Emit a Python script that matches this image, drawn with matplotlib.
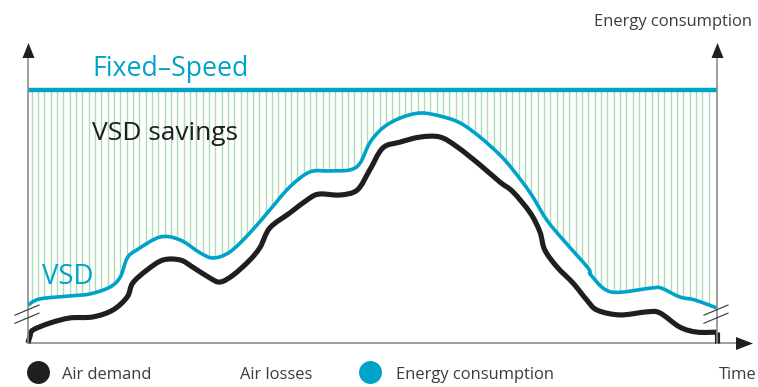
import numpy as np
import matplotlib
matplotlib.use("Agg")
import matplotlib.pyplot as plt
from matplotlib.path import Path
from matplotlib.patches import PathPatch

# ---- data -----------------------------------------------------------------
# Time (0-100) and energy level (Fixed-Speed = 100)
fixed_speed = 100.0

time_vsd = [0.0, 1.7, 6.1, 9.0, 11.9, 13.4, 14.4, 15.8, 19.2, 22.1, 25.0, 26.9,
            29.3, 32.2, 35.1, 38.0, 40.9, 43.8, 46.7, 48.2, 49.6, 51.5, 54.0,
            56.9, 59.8, 62.7, 65.6, 68.5, 70.4, 72.9, 75.3, 77.7, 81.3, 81.7,
            84.6, 90.4, 91.9, 94.6, 96.8, 100.0]
energy_vsd = [15.0, 17.4, 18.6, 19.4, 22.1, 26.1, 33.6, 36.8, 41.9, 40.7, 35.6,
              33.6, 36.0, 43.5, 52.6, 61.7, 67.6, 68.0, 68.4, 71.1, 79.1, 85.0,
              88.9, 90.9, 89.7, 87.0, 81.4, 74.3, 68.4, 59.3, 48.6, 40.7, 29.6,
              26.9, 20.2, 21.7, 21.7, 18.2, 17.0, 13.8]

time_demand = [0.0, 0.3, 0.7, 3.2, 6.1, 9.4, 12.3, 14.4, 15.2, 17.3, 19.6, 22.1,
               23.9, 26.4, 27.9, 29.8, 32.2, 33.7, 35.1, 38.0, 40.9, 42.4, 45.3,
               47.8, 49.6, 51.5, 54.0, 56.9, 59.8, 62.3, 65.6, 68.5, 70.4, 72.9,
               74.3, 75.0, 76.8, 79.1, 81.1, 82.6, 85.9, 89.8, 91.7, 94.6, 97.1,
               100.0, 100.0]
energy_demand = [0.0, 2.8, 5.1, 7.9, 9.9, 10.3, 13.0, 18.2, 23.7, 28.9, 32.8,
                 32.8, 30.0, 25.7, 24.1, 26.9, 32.8, 37.9, 45.5, 51.4, 57.3,
                 58.9, 58.5, 60.5, 68.4, 77.1, 79.4, 81.4, 81.4, 77.5, 70.4,
                 63.6, 59.7, 51.4, 43.9, 36.8, 30.0, 23.7, 17.0, 13.0, 11.1,
                 12.3, 11.9, 6.3, 4.3, 4.3, 0.0]

legend_labels = ["Air demand", "Air losses", "Energy consumption"]

# ---- style ----------------------------------------------------------------
TEAL = "#00a3c8"
INK = "#1f1f1f"
TEXT = "#3c3c3c"
HATCH = "#acdcb4"
AXIS = "#8c8c8c"
FONT = ["Open Sans", "DejaVu Sans"]

W, H = 758, 387
fig = plt.figure(figsize=(W / 100, H / 100), dpi=100)
ax = fig.add_axes([0, 0, 1, 1])
# 1 time unit = 6.89 px, 1 energy unit = 2.53 px; origin at pixel (28, 343)
SX, SY, OX, OY = 6.89, 2.53, 28, 343
ax.set_xlim(-OX / SX, (W - OX) / SX)
ax.set_ylim(-(H - OY) / SY, OY / SY)
ax.axis("off")


def smooth_path(t, e):
    """Catmull-Rom spline through the points, as cubic Bezier segments."""
    p = np.column_stack([t, e]).astype(float)
    pts = np.vstack([p[0], p, p[-1]])
    verts = [p[0]]
    codes = [Path.MOVETO]
    for i in range(1, len(pts) - 2):
        p0, p1, p2, p3 = pts[i - 1], pts[i], pts[i + 1], pts[i + 2]
        c1 = p1 + (p2 - p0) / 6.0
        c2 = p2 - (p3 - p1) / 6.0
        verts += [c1, c2, p2]
        codes += [Path.CURVE4] * 3
    return Path(np.array(verts), codes)


vsd_path = smooth_path(time_vsd, energy_vsd)
vsd_poly = vsd_path.to_polygons(closed_only=False)[0]

# savings hatch: vertical strokes between the VSD curve and the Fixed-Speed level
hatch_t = np.arange(0.55, 99.5, 0.918)
hatch_bottom = np.interp(hatch_t, vsd_poly[:, 0], vsd_poly[:, 1])
ax.vlines(hatch_t, hatch_bottom, fixed_speed, colors=HATCH, linewidth=1.0, zorder=1)

# VSD energy curve
ax.add_patch(PathPatch(vsd_path, fill=False, edgecolor=TEAL, linewidth=2.6,
                       capstyle="butt", joinstyle="round", zorder=3))

# air demand curve (smooth part, then square drop at the end)
dem_path = smooth_path(time_demand[:-1], energy_demand[:-1])
ax.add_patch(PathPatch(dem_path, fill=False, edgecolor=INK, linewidth=3.7,
                       capstyle="butt", joinstyle="round", zorder=4))
ax.plot(time_demand[-2:], energy_demand[-2:], color=INK, linewidth=3.7,
        solid_capstyle="butt", zorder=4)

# Fixed-Speed level
ax.plot([0, 100], [fixed_speed, fixed_speed], color=TEAL, linewidth=3.2,
        solid_capstyle="butt", zorder=3)

# axes with arrow heads
ax.plot([0, 0], [0, 113.0], color=AXIS, linewidth=1.2, zorder=5)
ax.plot([100, 100], [0, 113.0], color=AXIS, linewidth=1.2, zorder=5)
ax.plot([0, 102.8], [0, 0], color=AXIS, linewidth=1.2, zorder=2)

up = Path([(-6, -7.5), (6, -7.5), (0, 7.5), (-6, -7.5)],
          [Path.MOVETO, Path.LINETO, Path.LINETO, Path.CLOSEPOLY])
right = Path([(-8.5, -6.5), (-8.5, 6.5), (8.5, 0), (-8.5, -6.5)],
             [Path.MOVETO, Path.LINETO, Path.LINETO, Path.CLOSEPOLY])
ax.plot([0, 100], [115.8, 115.8], linestyle="none", marker=up,
        markersize=15 * 0.72, color=INK, markeredgewidth=0, zorder=6)
ax.plot([103.85], [0], linestyle="none", marker=right,
        markersize=17 * 0.72, color=INK, markeredgewidth=0, zorder=6)

# axis break marks
for x0 in (0, 100):
    for dy in (0, -3.2):
        ax.plot([x0 - 1.9, x0 + 1.6], [11.0 + dy, 15.0 + dy],
                color="#333333", linewidth=0.8, zorder=6)

# labels
ax.text(9.3, 105.7, "Fixed–Speed", color=TEAL, fontsize=19.2, family=FONT,
        va="baseline", ha="left")
ax.text(9.3, 80.2, "VSD savings", color=INK, fontsize=19.0, family=FONT,
        va="baseline", ha="left")
ax.text(2.1, 23.3, "VSD", color=TEAL, fontsize=19.8, family=FONT,
        va="baseline", ha="left")
ax.text(105.1, 125.3, "Energy consumption", color=TEXT, fontsize=11.9,
        family=FONT, va="baseline", ha="right")
ax.text(105.8, -14.2, "Time", color=TEXT, fontsize=11.9, family=FONT,
        va="baseline", ha="right")

# legend row
ax.plot([1.45], [-11.5], "o", color=INK, markersize=16.5, markeredgewidth=0)
ax.plot([49.6], [-11.5], "o", color=TEAL, markersize=16.5, markeredgewidth=0)
for tx, lab in zip([4.9, 30.8, 53.4], legend_labels):
    ax.text(tx, -14.2, lab, color=TEXT, fontsize=11.9, family=FONT,
            va="baseline", ha="left")

fig.savefig("out.png", dpi=100)
